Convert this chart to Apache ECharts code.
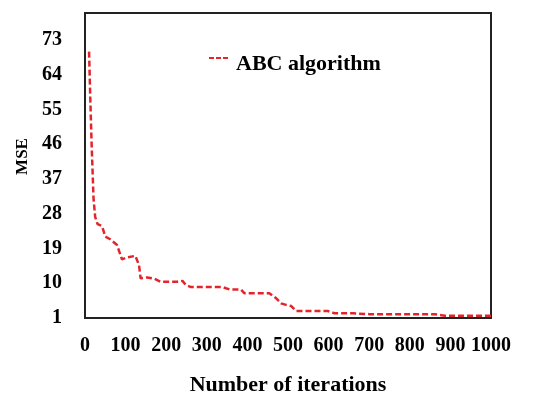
<!DOCTYPE html>
<html>
<head>
<meta charset="utf-8">
<script src="https://cdn.jsdelivr.net/npm/echarts@6/dist/echarts.min.js"></script>
<style>html,body{margin:0;padding:0;background:#fff;}#c{width:550px;height:399px;}</style>
</head>
<body>
<div id="c"></div>
<script>
const seriesName = 'ABC algorithm';
const iterations = [10,13,16,19,21,25,31,42,50,62,79,91,104,124,133,137,153,170,186,227,240,249,261,339,356,384,393,454,471,483,495,508,520,598,615,660,701,771,860,886,1000];
const mse =        [70,58,47,38,32,27.2,25.3,24.8,22.1,21.4,19.9,16.2,16.7,17.1,14.7,11.3,11.5,11.2,10.4,10.4,10.6,9.5,9.0,9.0,8.4,8.4,7.4,7.4,6.1,4.8,4.4,4.1,2.8,2.8,2.2,2.2,2.0,2.0,2.0,1.6,1.6];
const xTitle = 'Number of iterations';
const yTitle = 'MSE';

const font = "'Liberation Serif','Times New Roman',serif";
const chart = echarts.init(document.getElementById('c'), null, {renderer:'canvas'});
chart.setOption({
  animation:false,
  backgroundColor:'#fff',
  grid:{left:85,right:59,top:13,bottom:81,containLabel:false,outerBoundsMode:'none',show:true,borderColor:'#222',borderWidth:2,backgroundColor:'transparent'},
  legend:{
    left:204, top:48, itemWidth:19, itemHeight:14, itemGap:10,
    icon:'path://M0,0h5v2h-5z M7,0h5v2h-5z M14,0h5v2h-5z M0,13.9h0.1v0.1h-0.1z',
    textStyle:{fontFamily:font,fontWeight:'bold',fontSize:22,color:'#000',padding:[0,0,0,3]},
    data:[seriesName]
  },
  xAxis:{
    type:'value', min:0, max:1000, interval:100,
    name:xTitle, nameLocation:'middle', nameGap:56,
    nameTextStyle:{fontFamily:font,fontWeight:'bold',fontSize:22,color:'#000'},
    axisLine:{show:true,lineStyle:{color:'#222',width:2}},
    axisTick:{show:false}, splitLine:{show:false},
    axisLabel:{fontFamily:font,fontWeight:'bold',fontSize:20,color:'#000',margin:18,hideOverlap:false,formatter:v=>String(v)}
  },
  yAxis:{
    type:'value', min:1, max:80, interval:9,
    name:yTitle, nameLocation:'middle', nameGap:51,
    nameTextStyle:{fontFamily:font,fontWeight:'bold',fontSize:17,color:'#000',padding:[0,0,0,18]},
    axisLine:{show:true,lineStyle:{color:'#222',width:2}},
    axisTick:{show:false}, splitLine:{show:false},
    axisLabel:{fontFamily:font,fontWeight:'bold',fontSize:20,color:'#000',margin:23,showMaxLabel:false}
  },
  series:[{
    name:seriesName, type:'line', showSymbol:false, symbol:'none',
    data: iterations.map((x,i)=>[x,mse[i]]),
    lineStyle:{color:'#e3242b',width:2.5,type:[6,3]},
    itemStyle:{color:'#e3242b'}
  }]
});
</script>
</body>
</html>
